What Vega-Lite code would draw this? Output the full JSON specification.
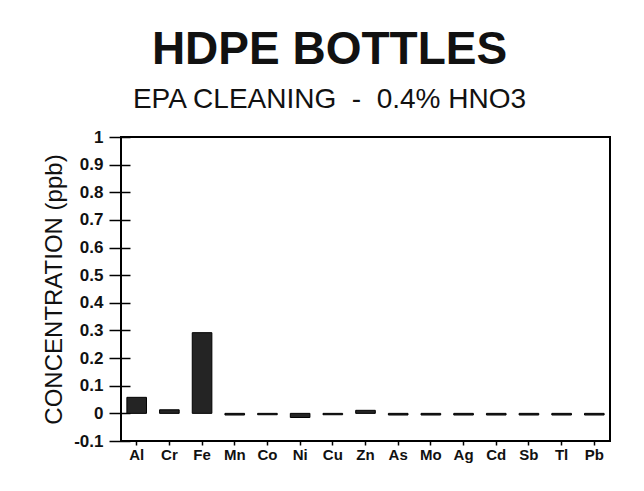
{
  "$schema": "https://vega.github.io/schema/vega-lite/v6.json",
  "width": 489,
  "height": 304,
  "autosize": "none",
  "padding": {"left": 121, "top": 137, "right": 34, "bottom": 50},
  "background": "white",
  "title": {
    "text": "HDPE BOTTLES",
    "subtitle": "EPA CLEANING\u00a0\u00a0-\u00a0\u00a00.4% HNO3",
    "anchor": "middle",
    "dx": -36,
    "offset": 13,
    "font": "Liberation Sans",
    "fontSize": 46,
    "fontWeight": "bold",
    "color": "#111",
    "subtitleFont": "Liberation Sans",
    "subtitleFontSize": 28,
    "subtitleColor": "#111",
    "subtitlePadding": 12
  },
  "data": {
    "values": [
      {"element": "Al", "conc": 0.058},
      {"element": "Cr", "conc": 0.013},
      {"element": "Fe", "conc": 0.292},
      {"element": "Mn", "conc": -0.006},
      {"element": "Co", "conc": -0.005},
      {"element": "Ni", "conc": -0.015},
      {"element": "Cu", "conc": -0.005},
      {"element": "Zn", "conc": 0.011},
      {"element": "As", "conc": -0.006},
      {"element": "Mo", "conc": -0.006},
      {"element": "Ag", "conc": -0.006},
      {"element": "Cd", "conc": -0.006},
      {"element": "Sb", "conc": -0.006},
      {"element": "Tl", "conc": -0.006},
      {"element": "Pb", "conc": -0.006}
    ]
  },
  "mark": {"type": "bar", "fill": "#242424", "stroke": "#000", "strokeWidth": 1},
  "encoding": {
    "x": {
      "field": "element",
      "type": "nominal",
      "sort": null,
      "scale": {"paddingInner": 0.4, "paddingOuter": 0.18},
      "axis": {
        "title": null,
        "labelAngle": 0,
        "labelFont": "Liberation Sans",
        "labelFontSize": 15,
        "labelFontWeight": "bold",
        "labelColor": "#111",
        "labelPadding": 2,
        "tickSize": 4,
        "tickColor": "#000",
        "tickWidth": 1.5,
        "domain": false,
        "grid": false
      }
    },
    "y": {
      "field": "conc",
      "type": "quantitative",
      "scale": {"domain": [-0.1, 1], "nice": false, "zero": false},
      "axis": {
        "title": "CONCENTRATION (ppb)",
        "titleFont": "Liberation Sans",
        "titleFontSize": 24,
        "titleFontWeight": "normal",
        "titleColor": "#111",
        "titlePadding": 7,
        "values": [-0.1, 0, 0.1, 0.2, 0.3, 0.4, 0.5, 0.6, 0.7, 0.8, 0.9, 1],
        "labelExpr": "toString(round(datum.value*10)/10)",
        "labelFont": "Liberation Sans",
        "labelFontSize": 17,
        "labelFontWeight": "bold",
        "labelColor": "#111",
        "labelPadding": 6,
        "offset": -9,
        "tickSize": 21,
        "tickColor": "#000",
        "tickWidth": 1.5,
        "domain": false,
        "grid": false
      }
    }
  },
  "config": {
    "view": {"stroke": "#000", "strokeWidth": 2}
  }
}
